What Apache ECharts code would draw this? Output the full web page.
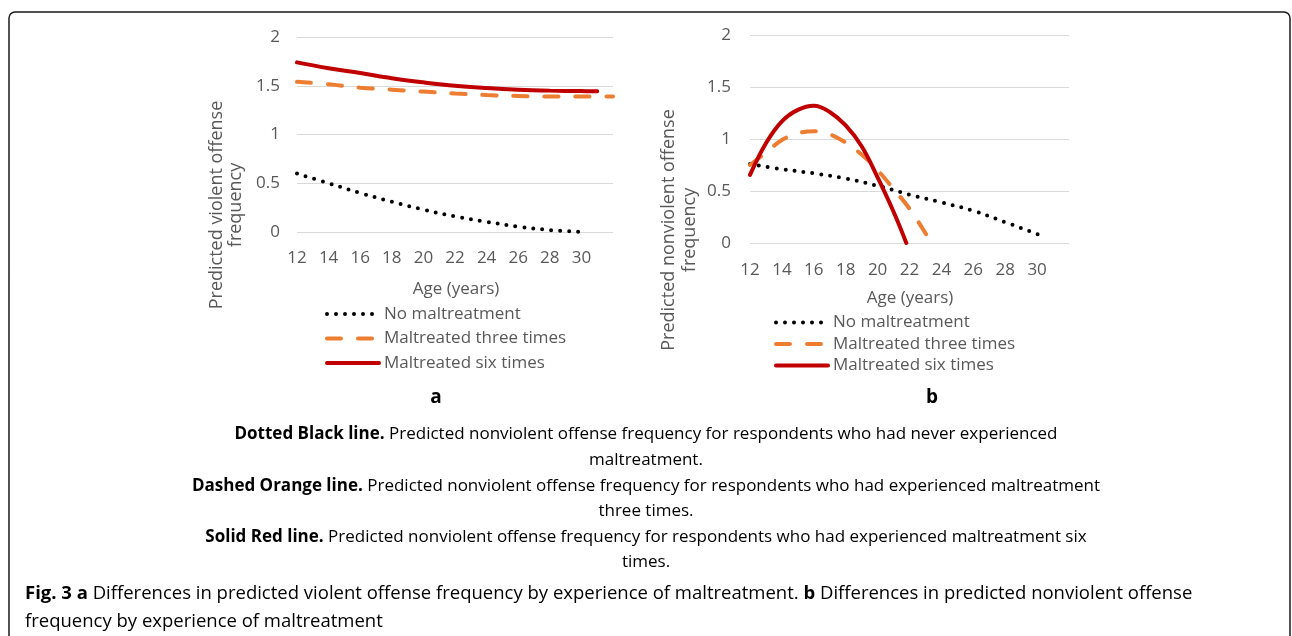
<!DOCTYPE html>
<html>
<head>
<meta charset="utf-8">
<script src="https://cdn.jsdelivr.net/npm/echarts@6/dist/echarts.min.js"></script>
<style>
  html, body { margin: 0; padding: 0; background: #fff; }
  #chart { width: 1292px; height: 636px; }
</style>
</head>
<body>
<div id="chart"></div>
<script>
  // panel a: violent offense
  const agesA = [12, 14, 16, 18, 20, 22, 24, 26, 28, 30, 32];
  const violentNone = [0.60, 0.50, 0.40, 0.31, 0.23, 0.16, 0.105, 0.055, 0.02, 0.0, null];
  const violentThree = [1.54, 1.515, 1.48, 1.46, 1.44, 1.42, 1.405, 1.395, 1.39, 1.39, 1.39];
  const agesA6 = [12, 14, 16, 18, 20, 22, 24, 26, 28, 30, 31];
  const violentSix = [1.74, 1.68, 1.63, 1.577, 1.535, 1.50, 1.477, 1.46, 1.45, 1.445, 1.443];

  // panel b: nonviolent offense
  const agesBNone = [12, 14, 16, 18, 20, 22, 24, 26, 28, 30, 30.5];
  const nonviolentNone = [0.76, 0.71, 0.67, 0.62, 0.55, 0.465, 0.39, 0.31, 0.20, 0.085, 0.05];
  const agesBThree = [12, 13, 14, 15, 16, 17, 18, 19, 20, 21, 22, 23.1];
  const nonviolentThree = [0.75, 0.87, 0.99, 1.055, 1.075, 1.045, 0.965, 0.85, 0.70, 0.52, 0.33, 0.07];
  const agesBSix = [12, 13, 14, 15, 16, 17, 18, 19, 20, 21, 21.8];
  const nonviolentSix = [0.655, 0.96, 1.17, 1.28, 1.32, 1.26, 1.13, 0.93, 0.63, 0.30, 0.0];

  const seriesNames = ['No maltreatment', 'Maltreated three times', 'Maltreated six times'];
  const yTicks = [0, 0.5, 1, 1.5, 2];

  const captionLines = [
    ['Dotted Black line.', ' Predicted nonviolent offense frequency for respondents who had never experienced'],
    ['', 'maltreatment.'],
    ['Dashed Orange line.', ' Predicted nonviolent offense frequency for respondents who had experienced maltreatment'],
    ['', 'three times.'],
    ['Solid Red line.', ' Predicted nonviolent offense frequency for respondents who had experienced maltreatment six'],
    ['', 'times.']
  ];

  const FONT = 'Open Sans';
  const FS = 17;
  const GREY = '#595959';
  const zip = (xs, ys) => xs.map((x, i) => [x, ys[i]]);

  const lineStyles = [
    { color: '#000000', width: 4, type: [0, 9], cap: 'round' },
    { color: '#ED7D31', width: 4, type: [14, 17], cap: 'round' },
    { color: '#C00000', width: 4, type: 'solid', cap: 'round' }
  ];

  const mkSeries = (name, idx, data, styleIdx) => ({
    name: name,
    type: 'line',
    xAxisIndex: idx,
    yAxisIndex: idx,
    data: data,
    smooth: 0.4,
    showSymbol: false,
    symbol: 'none',
    itemStyle: { color: lineStyles[styleIdx].color },
    lineStyle: lineStyles[styleIdx]
  });

  const xAxisBase = (gridIndex, margin) => ({
    type: 'value',
    gridIndex: gridIndex,
    min: 12,
    max: 32,
    interval: 2,
    axisLine: { show: false },
    axisTick: { show: false },
    splitLine: { show: false },
    axisLabel: {
      margin: margin,
      color: GREY,
      fontFamily: FONT,
      fontSize: FS,
      formatter: (v) => (v > 30 ? '' : String(v))
    }
  });

  const yAxisBase = (gridIndex, margin) => ({
    type: 'value',
    gridIndex: gridIndex,
    min: 0,
    max: 2,
    interval: 0.5,
    axisLine: { show: false },
    axisTick: { show: false },
    splitLine: { lineStyle: { color: '#d9d9d9', width: 1 } },
    axisLabel: {
      margin: margin,
      color: GREY,
      fontFamily: FONT,
      fontSize: FS,
      formatter: (v) => (yTicks.includes(v) ? String(v) : '')
    }
  });

  const legendBase = (left, top, gap) => ({
    orient: 'vertical',
    left: left,
    top: top,
    padding: 0,
    itemWidth: 52,
    itemHeight: 14,
    itemGap: gap,
    selectedMode: false,
    data: seriesNames,
    textStyle: { color: GREY, fontFamily: FONT, fontSize: FS },
    lineStyle: { width: 4 },
    itemStyle: { opacity: 0, color: 'rgba(0,0,0,0)', borderWidth: 0 }
  });

  const rich = {
    b: { fontFamily: FONT, fontWeight: 'bold', fontSize: FS, color: '#000' },
    n: { fontFamily: FONT, fontSize: FS, color: '#000' }
  };

  const captionGraphics = captionLines.map((c, i) => ({
    type: 'text',
    left: 'center',
    top: 426 + i * 25.6,
    style: {
      text: (c[0] ? '{b|' + c[0] + '}' : '') + '{n|' + c[1] + '}',
      rich: rich
    }
  }));

  const figRich = {
    b: { fontFamily: FONT, fontWeight: 'bold', fontSize: 18.5, color: '#000' },
    n: { fontFamily: FONT, fontSize: 18.5, color: '#404040' }
  };

  const titleFont = '18px "' + FONT + '"';
  const labelFont = FS + 'px "' + FONT + '"';

  const chart = echarts.init(document.getElementById('chart'));
  const options = {
    animation: false,
    backgroundColor: '#fff',
    grid: [
      { left: 297, right: 679, top: 37, bottom: 404 },
      { left: 750, right: 223, top: 35, bottom: 393 }
    ],
    xAxis: [xAxisBase(0, 18), xAxisBase(1, 19)],
    yAxis: [yAxisBase(0, 17), yAxisBase(1, 19)],
    legend: [legendBase(325, 305.5, 7.5), legendBase(774, 314, 4.5)],
    series: [
      mkSeries(seriesNames[0], 0, zip(agesA, violentNone), 0),
      mkSeries(seriesNames[1], 0, zip(agesA, violentThree), 1),
      mkSeries(seriesNames[2], 0, zip(agesA6, violentSix), 2),
      mkSeries(seriesNames[0], 1, zip(agesBNone, nonviolentNone), 0),
      mkSeries(seriesNames[1], 1, zip(agesBThree, nonviolentThree), 1),
      mkSeries(seriesNames[2], 1, zip(agesBSix, nonviolentSix), 2)
    ],
    graphic: [
      {
        type: 'rect',
        shape: { x: 9, y: 12, width: 1281, height: 700, r: 6 },
        style: { fill: 'none', stroke: '#1a1a1a', lineWidth: 1.5 },
        silent: true
      },
      // axis titles
      {
        type: 'text',
        x: 226, y: 205,
        rotation: Math.PI / 2,
        style: {
          text: 'Predicted violent offense\nfrequency',
          fill: GREY, font: titleFont, align: 'center', verticalAlign: 'middle', lineHeight: 19
        }
      },
      {
        type: 'text',
        x: 679, y: 230,
        rotation: Math.PI / 2,
        style: {
          text: 'Predicted nonviolent offense\nfrequency',
          fill: GREY, font: titleFont, align: 'center', verticalAlign: 'middle', lineHeight: 21
        }
      },
      {
        type: 'text', x: 456, y: 289,
        style: { text: 'Age (years)', fill: GREY, font: labelFont, align: 'center', verticalAlign: 'middle' }
      },
      {
        type: 'text', x: 910, y: 298,
        style: { text: 'Age (years)', fill: GREY, font: labelFont, align: 'center', verticalAlign: 'middle' }
      },
      {
        type: 'text', x: 436, y: 398,
        style: { text: 'a', fill: '#000', font: 'bold 19px "' + FONT + '"', align: 'center', verticalAlign: 'middle' }
      },
      {
        type: 'text', x: 932, y: 398,
        style: { text: 'b', fill: '#000', font: 'bold 19px "' + FONT + '"', align: 'center', verticalAlign: 'middle' }
      },
      ...captionGraphics,
      {
        type: 'text',
        left: 25,
        top: 580,
        style: {
          text: '{b|Fig. 3 a}{n| Differences in predicted violent offense frequency by experience of maltreatment. }{b|b}{n| Differences in predicted nonviolent offense}\n{n|frequency by experience of maltreatment}',
          rich: figRich,
          lineHeight: 28
        }
      }
    ]
  };

  chart.setOption(options);
  window.addEventListener('resize', () => chart.resize());
</script>
</body>
</html>
